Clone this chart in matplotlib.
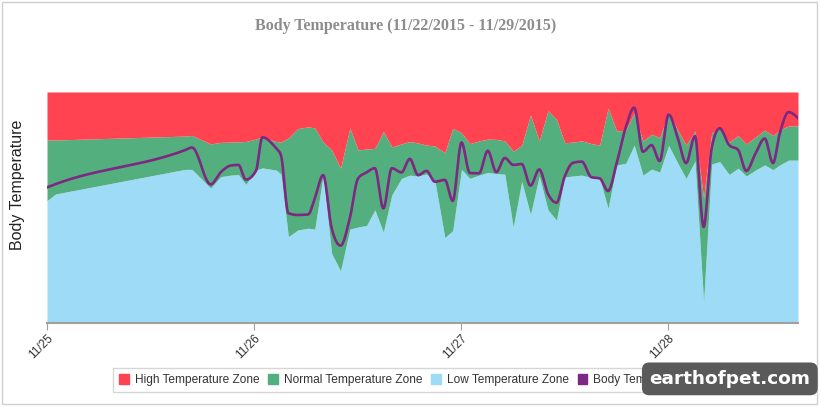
import numpy as np
import pandas as pd
import matplotlib
matplotlib.use("Agg")
import matplotlib.pyplot as plt
import matplotlib.dates as mdates
from matplotlib.patches import Patch, Rectangle

times = [
    "2015-11-25 00:00", "2015-11-25 01:00", "2015-11-25 16:00", "2015-11-25 16:49",
    "2015-11-25 18:59", "2015-11-25 20:10", "2015-11-25 21:20", "2015-11-25 22:12",
    "2015-11-25 23:04",
    "2015-11-26 00:14", "2015-11-26 00:59", "2015-11-26 02:33", "2015-11-26 03:08",
    "2015-11-26 04:00", "2015-11-26 05:06", "2015-11-26 06:18", "2015-11-26 07:04",
    "2015-11-26 08:02", "2015-11-26 09:01", "2015-11-26 10:03", "2015-11-26 11:08",
    "2015-11-26 12:05", "2015-11-26 13:04", "2015-11-26 14:02", "2015-11-26 15:01",
    "2015-11-26 16:00", "2015-11-26 17:07", "2015-11-26 18:05", "2015-11-26 19:03",
    "2015-11-26 20:01", "2015-11-26 21:00", "2015-11-26 22:09", "2015-11-26 23:04",
    "2015-11-27 00:05", "2015-11-27 01:03", "2015-11-27 02:07", "2015-11-27 03:08",
    "2015-11-27 04:07", "2015-11-27 05:06", "2015-11-27 06:05", "2015-11-27 07:04",
    "2015-11-27 08:05", "2015-11-27 09:06", "2015-11-27 10:07", "2015-11-27 11:06",
    "2015-11-27 12:03", "2015-11-27 13:01", "2015-11-27 14:02", "2015-11-27 15:09",
    "2015-11-27 16:07", "2015-11-27 17:05", "2015-11-27 18:05", "2015-11-27 19:08",
    "2015-11-27 20:07", "2015-11-27 21:08", "2015-11-27 22:08", "2015-11-27 23:04",
    "2015-11-28 00:07", "2015-11-28 01:10", "2015-11-28 02:08", "2015-11-28 03:10",
    "2015-11-28 04:10", "2015-11-28 05:06", "2015-11-28 06:02", "2015-11-28 07:08",
    "2015-11-28 08:10", "2015-11-28 09:07", "2015-11-28 10:12", "2015-11-28 11:15",
    "2015-11-28 12:13", "2015-11-28 13:00", "2015-11-28 14:02", "2015-11-28 15:07",
]

# upper bound of normal zone
high = [40.10, 40.10, 40.23, 40.25, 39.97, 40.02, 40.03, 40.04, 40.05,
        40.13, 40.21, 40.05, 40.03, 40.17, 40.48, 40.54, 40.50, 40.03, 39.77, 39.16, 40.50,
        39.77, 39.80, 39.82, 40.38, 39.87, 39.97, 40.05, 40.00, 39.93, 39.90, 39.67, 40.49,
        40.34, 39.98, 40.07, 40.13, 40.12, 40.07, 39.73, 39.92, 40.93, 40.07, 41.08, 40.79,
        40.01, 40.03, 40.07, 39.98, 39.93, 41.16, 40.40, 40.43, 41.00, 40.07, 40.29, 40.18,
        41.03, 40.43, 39.93, 40.40, 38.18, 40.33, 40.48, 40.03, 40.25, 39.97, 40.20, 40.43,
        40.25, 40.43, 40.57, 40.57]

# lower bound of normal zone
low = [38.08, 38.30, 39.12, 39.12, 38.50, 38.88, 38.93, 38.95, 38.62,
       39.10, 39.17, 39.10, 38.97, 36.88, 37.10, 37.16, 37.13, 38.93, 36.32, 35.74, 37.13,
       37.20, 37.25, 37.77, 37.03, 38.27, 38.82, 38.93, 38.90, 38.97, 38.73, 36.85, 37.08,
       39.12, 38.82, 38.93, 39.02, 38.98, 38.96, 37.20, 38.72, 37.62, 38.90, 37.77, 37.43,
       38.87, 38.90, 38.93, 38.85, 38.82, 37.82, 39.27, 39.32, 39.93, 38.93, 39.13, 39.03,
       39.92, 39.33, 38.82, 39.40, 34.71, 39.30, 39.38, 38.95, 39.16, 38.90, 39.10, 39.27,
       39.11, 39.27, 39.43, 39.43]

body = [38.52, 38.63, 39.76, 39.85, 38.62, 39.03, 39.25, 39.27, 38.78,
        39.07, 40.19, 39.83, 39.60, 37.66, 37.60, 37.62, 38.16, 38.93, 37.17, 36.58, 37.50,
        38.82, 39.02, 39.16, 37.82, 39.16, 39.02, 39.47, 38.93, 39.07, 38.71, 38.77, 38.07,
        40.02, 39.00, 38.99, 39.74, 39.03, 39.50, 39.27, 39.30, 38.58, 39.12, 38.30, 38.01,
        38.88, 39.34, 39.38, 38.86, 38.82, 38.40, 39.33, 40.52, 41.18, 39.71, 39.93, 39.40,
        40.95, 40.17, 39.33, 40.23, 37.20, 39.83, 40.49, 39.93, 39.77, 39.07, 39.66, 40.15,
        39.33, 40.32, 41.03, 40.83]

zone_min = 34.0
zone_max = 41.7

c_high = "#ff4350"
c_norm = "#53b07e"
c_low = "#9ddbf7"
c_body = "#7d2883"


def monotone(x, y, n=16):
    # monotone cubic (like d3 curveMonotoneX), just for drawing the line
    x = np.asarray(x, float)
    y = np.asarray(y, float)
    h = np.diff(x)
    s = np.diff(y) / h
    m = np.zeros_like(y)
    for i in range(1, len(x) - 1):
        p = (s[i - 1] * h[i] + s[i] * h[i - 1]) / (h[i - 1] + h[i])
        m[i] = (np.sign(s[i - 1]) + np.sign(s[i])) * min(abs(s[i - 1]), abs(s[i]), 0.5 * abs(p))
    m[0] = (3 * s[0] - m[1]) / 2
    m[-1] = (3 * s[-1] - m[-2]) / 2
    xs, ys = [], []
    u = np.linspace(0, 1, n, endpoint=False)
    for i in range(len(x) - 1):
        h00 = 2 * u**3 - 3 * u**2 + 1
        h10 = u**3 - 2 * u**2 + u
        h01 = -2 * u**3 + 3 * u**2
        h11 = u**3 - u**2
        xs.append(x[i] + u * h[i])
        ys.append(h00 * y[i] + h10 * h[i] * m[i] + h01 * y[i + 1] + h11 * h[i] * m[i + 1])
    xs.append([x[-1]])
    ys.append([y[-1]])
    return np.concatenate(xs), np.concatenate(ys)


t = pd.to_datetime(times)
tn = mdates.date2num(t)

fig = plt.figure(figsize=(8.21, 4.07), dpi=100)
ax = fig.add_axes([47 / 821, 84 / 407, 751 / 821, 231 / 407])

ax.fill_between(tn, zone_min, low, color=c_low, lw=0)
ax.fill_between(tn, low, high, color=c_norm, lw=0)
ax.fill_between(tn, high, zone_max, color=c_high, lw=0)
sx, sy = monotone(tn, body)
ax.plot(sx, sy, color=c_body, lw=1.9, solid_joinstyle="round")

ax.set_xlim(tn[0], tn[-1])
ax.set_ylim(zone_min, zone_max)
ax.xaxis.set_major_locator(mdates.DayLocator())
ax.xaxis.set_major_formatter(mdates.DateFormatter("%m/%d"))
ax.set_yticks([])
for side in ["top", "right", "left"]:
    ax.spines[side].set_visible(False)
ax.spines["bottom"].set_color("#a0a0a0")
ax.spines["bottom"].set_linewidth(1.5)
ax.tick_params(axis="x", length=5, color="#a0a0a0", labelsize=8.5, labelcolor="#333333", pad=2)
for lab in ax.get_xticklabels():
    lab.set_rotation(45)
    lab.set_ha("right")
    lab.set_rotation_mode("anchor")
    lab.set_family("Liberation Sans")

ax.set_ylabel("Body Temperature", fontsize=11.5, color="#222222", family="Liberation Sans")
ax.yaxis.set_label_coords(-0.029, 0.6)

fig.text(0.494, 0.936, "Body Temperature (11/22/2015 - 11/29/2015)", ha="center", va="center",
         fontsize=11.5, fontweight="bold", color="#8c8c8c", family="Liberation Serif")

handles = [Patch(color=c_high), Patch(color=c_norm), Patch(color=c_low), Patch(color=c_body)]
labels = ["High Temperature Zone", "Normal Temperature Zone", "Low Temperature Zone", "Body Temperature"]
leg = fig.legend(handles, labels, loc="center", bbox_to_anchor=(0.493, 0.066), ncol=4,
                 frameon=True, fancybox=False, edgecolor="#cccccc",
                 handlelength=0.8, handleheight=0.8, handletextpad=0.5, columnspacing=0.75,
                 borderpad=0.5, prop={"family": "Liberation Sans", "size": 8.6})
leg.set_zorder(2)
for txt in leg.get_texts():
    txt.set_color("#333333")

# outer frame of the chart
fig.patches.append(Rectangle((2 / 821, 3 / 407), 815 / 821, 402 / 407, transform=fig.transFigure,
                             fill=False, edgecolor="#d0d0d0", lw=1))

# watermark
wm = fig.text(0.987, 0.047, "earthofpet.com", ha="right", va="bottom", color="white", fontsize=13.3,
              fontweight="bold", bbox=dict(boxstyle="round,pad=0.4", fc="#5a5a5a", ec="none"))
wm.set_zorder(10)

fig.savefig("out.png", dpi=100)
